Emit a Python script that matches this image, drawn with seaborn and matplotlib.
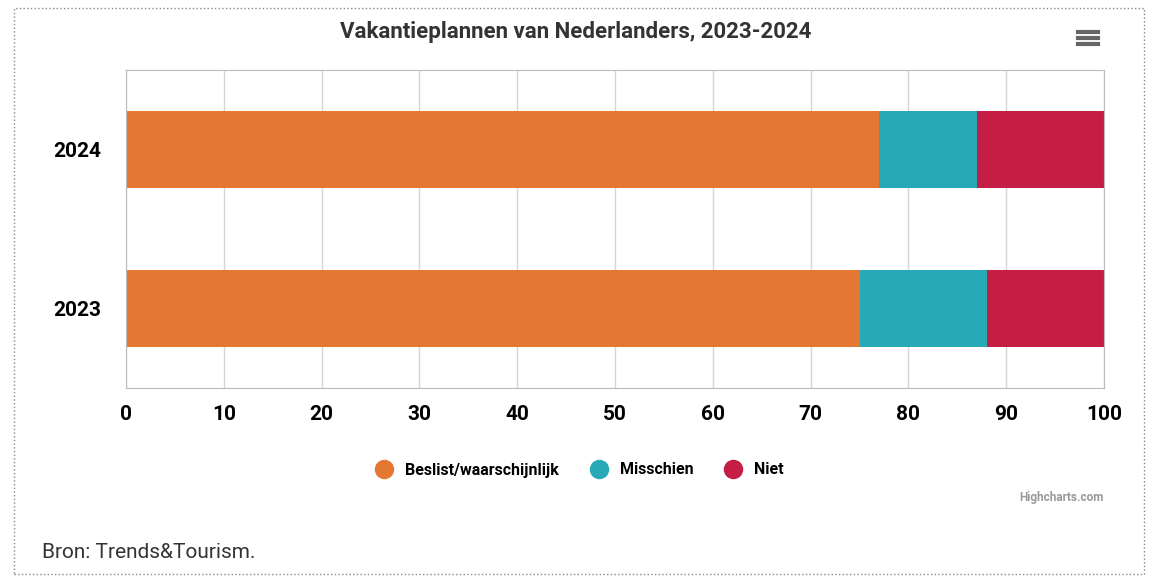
import matplotlib
matplotlib.use("Agg")
import matplotlib.pyplot as plt
import seaborn as sns
import pandas as pd
from matplotlib.lines import Line2D
from matplotlib.patches import Rectangle

years = ["2024", "2023"]
beslist = [77, 75]
misschien = [10, 13]
niet = [13, 12]
series_names = ["Beslist/waarschijnlijk", "Misschien", "Niet"]
colors = ["#E47833", "#27A9B8", "#C41E45"]
xticks = [0, 10, 20, 30, 40, 50, 60, 70, 80, 90, 100]

df = pd.DataFrame({"year": years, "b": beslist, "m": misschien, "n": niet})
df["c1"] = df["b"]
df["c2"] = df["b"] + df["m"]
df["c3"] = df["c2"] + df["n"]

plt.rcParams["font.family"] = "Roboto"
fig = plt.figure(figsize=(11.52, 5.84), dpi=100)
ax = fig.add_axes([126/1152, 1-388/584, (1104-126)/1152, (388-70)/584])

for col, c in zip(["c3", "c2", "c1"], colors[::-1]):
    sns.barplot(data=df, x=col, y="year", orient="h", color=c, width=0.49,
                ax=ax, saturation=1, order=years)

ax.set_xlim(0, 100)
ax.set_xticks(xticks)
ax.set_xticklabels([str(t) for t in xticks], fontsize=15, fontweight="bold")
ax.tick_params(axis="y", labelsize=15, length=0, pad=18)
for l in ax.get_yticklabels():
    l.set_fontweight("bold")
ax.tick_params(axis="x", length=0, pad=12)
ax.set_xlabel("")
ax.set_ylabel("")
ax.grid(axis="x", color="#d6d6d6", linewidth=1)
ax.set_axisbelow(True)
for s in ax.spines.values():
    s.set_color("#bbbbbb")

fig.text(0.5, 1-32/584, "Vakantieplannen van Nederlanders, 2023-2024", ha="center", va="center",
         fontsize=16, fontweight="bold", color="#333333")
handles = [Line2D([0], [0], marker="o", linestyle="", markersize=13, markerfacecolor=c,
                  markeredgecolor=c) for c in colors]
fig.legend(handles, series_names, loc="center", bbox_to_anchor=(0.5, 1-470/584), ncol=3,
           frameon=False, prop={"weight": "bold", "size": 11.5}, handletextpad=0.3, columnspacing=1.5)
fig.text(1104/1152, 1-497/584, "Highcharts.com", ha="right", va="center", fontsize=8.5,
         color="#999999", fontweight="bold")
fig.text(42/1152, 1-552/584, "Bron: Trends&Tourism.", ha="left", va="center", fontsize=15, color="#333333")
# menu icon
for dy in [32, 38, 44]:
    fig.add_artist(Line2D([1078/1152, 1098/1152], [1-dy/584, 1-dy/584], color="#666666", linewidth=3))
fig.add_artist(Rectangle((14/1152, 1-574/584), (1144-14)/1152, (574-8)/584, fill=False,
                         edgecolor="#888888", linestyle=":", linewidth=1, transform=fig.transFigure))
fig.savefig("out.png", dpi=100)
